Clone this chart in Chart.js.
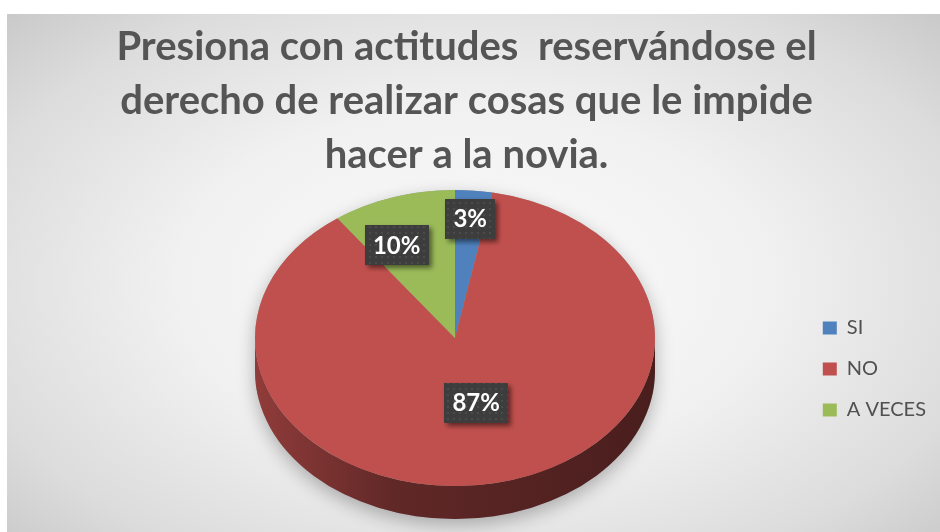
<!DOCTYPE html>
<html>
<head>
<meta charset="utf-8">
<script src="https://cdn.jsdelivr.net/npm/chart.js@4.4.0/dist/chart.umd.min.js"></script>
<style>
  html, body { margin: 0; padding: 0; background: #fff; }
  body { width: 940px; height: 532px; position: relative; overflow: hidden; }
  #box {
    position: absolute; left: 7px; top: 14px; width: 933px; height: 518px;
    background: radial-gradient(ellipse 70% 75% at 50% 52%, #fbfbfb 0%, #f1f1f1 45%, #dcdcdc 80%, #c9c9c9 100%);
  }
</style>
</head>
<body>
<div id="box"><canvas id="chart"></canvas></div>
<script>
// ===== DATA =====
const labels = ['SI', 'NO', 'A VECES'];
const values = [3, 87, 10];
const colors = ['#4F81BD', '#C0504D', '#9BBB59'];
const titleLines = [
    'Presiona con actitudes  reservándose el',
    'derecho de realizar cosas que le impide',
    'hacer a la novia.'
];

// pie geometry (canvas coords) and label placement along each slice
const PIE = { cx: 448, cy: 324, rx: 200, ry: 148, depth: 33 };
const labelDist = [0.81, 0.45, 0.69];
const labelTurn = [0, -1, -7]; // degrees, nudges like Excel "best fit"
const LEGEND_SHIFT = { x: 10, y: 96 };

function shade(hex, f) {
    const n = parseInt(hex.slice(1), 16);
    const r = Math.round(((n >> 16) & 255) * f), g = Math.round(((n >> 8) & 255) * f), b = Math.round((n & 255) * f);
    return `rgb(${r},${g},${b})`;
}

let dotPattern;
function getPattern(ctx) {
    if (dotPattern) return dotPattern;
    const c = document.createElement('canvas');
    c.width = 6; c.height = 6;
    const p = c.getContext('2d');
    p.fillStyle = '#3d3d3d'; p.fillRect(0, 0, 6, 6);
    p.fillStyle = '#4b4b4b'; p.fillRect(2, 2, 2, 2);
    dotPattern = ctx.createPattern(c, 'repeat');
    return dotPattern;
}

// ===== 3D TILT PLUGIN =====
const tiltPlugin = {
    id: 'tilt',
    afterLayout(chart) {
        // move the legend to the middle of the right side
        const lg = chart.legend;
        lg.top += LEGEND_SHIFT.y; lg.bottom += LEGEND_SHIFT.y;
        lg.left += LEGEND_SHIFT.x; lg.right += LEGEND_SHIFT.x;
    },
    beforeDatasetsDraw(chart) {
        const ctx = chart.ctx;
        const meta = chart.getDatasetMeta(0);
        const first = meta.data[0];
        const { rx, ry, depth } = PIE;

        ctx.save();
        ctx.translate(PIE.cx, PIE.cy);
        // soft shadow under the disc
        ctx.save();
        ctx.shadowColor = 'rgba(0,0,0,0.28)';
        ctx.shadowBlur = 18;
        ctx.shadowOffsetY = 6;
        ctx.fillStyle = '#999';
        ctx.beginPath();
        ctx.ellipse(0, depth, rx, ry, 0, 0, Math.PI);
        ctx.lineTo(-rx, 0);
        ctx.ellipse(0, 0, rx, ry, 0, Math.PI, 2 * Math.PI);
        ctx.closePath();
        ctx.fill();
        ctx.restore();

        // side walls
        meta.data.forEach((arc, i) => {
            const a1 = Math.max(arc.startAngle, 0);
            const a2 = Math.min(arc.endAngle, Math.PI);
            if (a2 <= a1) return;
            const g = ctx.createLinearGradient(-rx, 0, rx, 0);
            g.addColorStop(0, shade(colors[i], 0.75));
            g.addColorStop(0.35, shade(colors[i], 0.5));
            g.addColorStop(1, shade(colors[i], 0.38));
            ctx.fillStyle = g;
            ctx.beginPath();
            ctx.ellipse(0, 0, rx, ry, 0, a1, a2);
            ctx.ellipse(0, depth, rx, ry, 0, a2, a1, true);
            ctx.closePath();
            ctx.fill();
        });
        ctx.restore();

        // squash the top face
        ctx.save();
        ctx.translate(PIE.cx, PIE.cy);
        ctx.scale(1, ry / rx);
        ctx.translate(-first.x, -first.y);
    },
    afterDatasetsDraw(chart) {
        const ctx = chart.ctx;
        ctx.restore();
        const meta = chart.getDatasetMeta(0);
        const total = values.reduce((a, b) => a + b, 0);
        ctx.save();
        ctx.font = 'bold 24px Lato';
        ctx.textAlign = 'center';
        ctx.textBaseline = 'middle';
        meta.data.forEach((arc, i) => {
            const mid = (arc.startAngle + arc.endAngle) / 2 + labelTurn[i] * Math.PI / 180;
            const d = PIE.rx * labelDist[i];
            const x = PIE.cx + Math.cos(mid) * d;
            const y = PIE.cy + Math.sin(mid) * d * PIE.ry / PIE.rx;
            const txt = Math.round(values[i] / total * 100) + '%';
            const w = ctx.measureText(txt).width + 16, h = 40;
            ctx.save();
            ctx.shadowColor = 'rgba(0,0,0,0.5)';
            ctx.shadowBlur = 5;
            ctx.shadowOffsetX = 3;
            ctx.shadowOffsetY = 3;
            ctx.fillStyle = getPattern(ctx);
            ctx.fillRect(Math.round(x - w / 2), Math.round(y - h / 2), Math.round(w), h);
            ctx.restore();
            ctx.fillStyle = '#ffffff';
            ctx.fillText(txt, x, y + 1);
        });
        ctx.restore();
    }
};

new Chart(document.getElementById('chart'), {
    type: 'pie',
    data: {
        labels: labels,
        datasets: [{
            data: values,
            backgroundColor: colors,
            borderWidth: 0,
            radius: PIE.rx,
            clip: false
        }]
    },
    options: {
        responsive: true,
        maintainAspectRatio: false,
        animation: false,
        layout: { padding: { left: 0, right: 14, top: 0, bottom: 0 } },
        plugins: {
            title: {
                display: true,
                text: titleLines,
                color: '#555555',
                font: { family: 'Lato', size: 40, weight: 'bold', lineHeight: 1.35 },
                padding: { top: 6, bottom: 10 }
            },
            legend: {
                position: 'right',
                labels: {
                    boxWidth: 14,
                    boxHeight: 13,
                    color: '#505050',
                    font: { family: 'Lato', size: 20 },
                    padding: 21
                }
            },
            tooltip: { enabled: false }
        }
    },
    plugins: [tiltPlugin]
});
</script>
</body>
</html>
